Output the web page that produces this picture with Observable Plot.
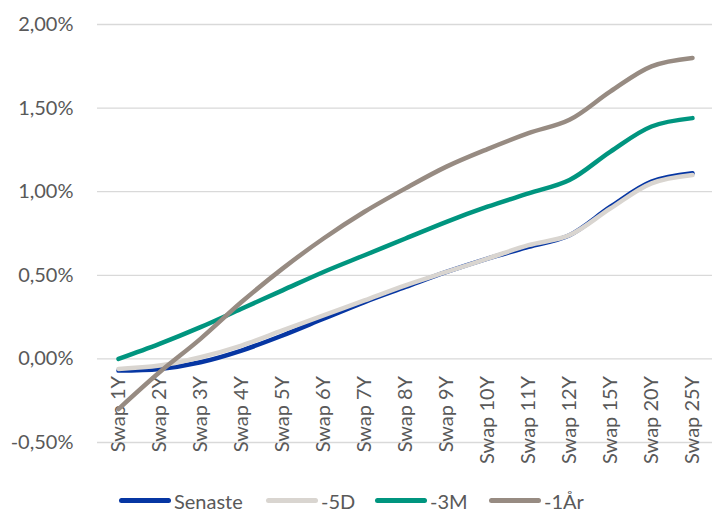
<!DOCTYPE html>
<html>
<head>
<meta charset="utf-8">
<script src="https://cdn.jsdelivr.net/npm/d3@7"></script>
<script src="https://cdn.jsdelivr.net/npm/@observablehq/plot@0.6"></script>
<style>
  html, body { margin: 0; padding: 0; background: #fff; }
  #chart { width: 712px; height: 513px; position: relative; font-family: Lato, "Open Sans", sans-serif; }
  .legend { position: absolute; left: 0; top: 488px; width: 712px; height: 25px; }
  .item { position: absolute; top: 0; display: flex; align-items: center; height: 25px; color: #595959; font-size: 20px; }
  .swatch { width: 52px; height: 5px; border-radius: 3px; margin-right: 3px; }
</style>
</head>
<body>
<div id="chart"></div>
<script>
const categories = ["Swap 1Y","Swap 2Y","Swap 3Y","Swap 4Y","Swap 5Y","Swap 6Y","Swap 7Y","Swap 8Y","Swap 9Y","Swap 10Y","Swap 11Y","Swap 12Y","Swap 15Y","Swap 20Y","Swap 25Y"];
const seriesNames = ["Senaste","-5D","-3M","-1År"];
const senaste = [-0.07,-0.06,-0.02,0.05,0.14,0.24,0.34,0.43,0.52,0.60,0.67,0.74,0.91,1.06,1.11];
const minus5D = [-0.06,-0.04,0.01,0.08,0.17,0.26,0.35,0.44,0.52,0.60,0.68,0.74,0.90,1.05,1.10];
const minus3M = [0.00,0.09,0.19,0.30,0.41,0.52,0.62,0.72,0.82,0.91,0.99,1.07,1.24,1.39,1.44];
const minus1Y = [-0.30,-0.08,0.12,0.34,0.54,0.72,0.88,1.02,1.15,1.255,1.35,1.43,1.60,1.75,1.80];
const yTicks = [-0.5,0,0.5,1.0,1.5,2.0];
const colors = ["#0636a3","#d9d5d0","#00957f","#978b82"];

const seriesValues = [senaste, minus5D, minus3M, minus1Y];
const data = seriesNames.map((name, s) => categories.map((c, i) => ({series: name, cat: c, v: seriesValues[s][i]})));

const fmt = d => d.toFixed(2).replace(".", ",") + "%";

const chart = Plot.plot({
  width: 712,
  height: 480,
  marginTop: 24,
  marginBottom: 38,
  marginLeft: 97,
  marginRight: 0,
  style: {fontFamily: "Lato, 'Open Sans', sans-serif", background: "transparent"},
  x: {type: "point", domain: categories, padding: 0.5, axis: null},
  y: {domain: [-0.5, 2.0], axis: null},
  marks: [
    Plot.ruleY(yTicks, {stroke: "#d9d9d9", strokeWidth: 1.3}),
    Plot.axisY({ticks: yTicks, tickSize: 0, tickPadding: 24, tickFormat: fmt, fontSize: 20, fill: "#595959", anchor: "left", label: null}),
    Plot.text(categories, {x: d => d, y: () => 0, text: d => d, rotate: -90, textAnchor: "end", dy: 17, fontSize: 20, fill: "#595959"}),
    ...data.map((d, s) => Plot.line(d, {x: "cat", y: "v", stroke: colors[s], strokeWidth: 4.5, curve: "catmull-rom", strokeLinecap: "round", strokeLinejoin: "round"}))
  ]
});
document.getElementById("chart").appendChild(chart);

const legend = document.createElement("div");
legend.className = "legend";
const lefts = [119, 266, 375, 489];
seriesNames.forEach((n, i) => {
  const it = document.createElement("div");
  it.className = "item";
  it.style.left = lefts[i] + "px";
  const sw = document.createElement("div");
  sw.className = "swatch";
  sw.style.background = colors[i];
  const tx = document.createElement("span");
  tx.textContent = n;
  it.appendChild(sw); it.appendChild(tx);
  legend.appendChild(it);
});
document.getElementById("chart").appendChild(legend);
</script>
</body>
</html>
